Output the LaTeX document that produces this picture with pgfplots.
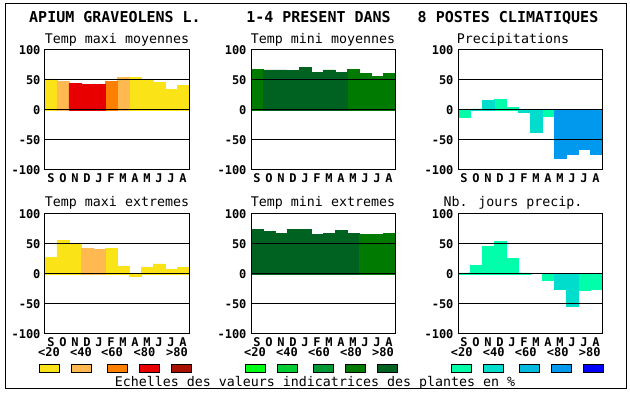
\documentclass[border=0pt]{standalone}
\usepackage{fontspec}
\setmainfont{DejaVu Sans Mono}
\setmonofont{DejaVu Sans Mono}
\usepackage{pgfplots}
\pgfplotsset{compat=1.18}
\definecolor{y20}{RGB}{250,228,24}
\definecolor{y40}{RGB}{255,185,80}
\definecolor{y60}{RGB}{255,128,0}
\definecolor{y80}{RGB}{232,0,0}
\definecolor{y99}{RGB}{170,16,0}
\definecolor{g20}{RGB}{0,255,20}
\definecolor{g40}{RGB}{0,204,51}
\definecolor{g60}{RGB}{0,153,51}
\definecolor{g80}{RGB}{0,122,0}
\definecolor{g99}{RGB}{0,98,32}
\definecolor{b20}{RGB}{0,255,170}
\definecolor{b40}{RGB}{0,221,204}
\definecolor{b60}{RGB}{0,187,221}
\definecolor{b80}{RGB}{0,153,238}
\definecolor{b99}{RGB}{0,0,255}
\newcommand\ticks{\fontsize{12}{13}\selectfont\bfseries}
\newcommand\subt{\fontsize{13.3}{14}\selectfont}
\newcommand\ttl{\fontsize{15}{16}\selectfont\bfseries}
\pgfplotsset{panel/.style={width=144pt,height=120pt,scale only axis,
  anchor=south west,
  xmin=0.5,xmax=12.5,ymin=-100,ymax=100,
  xtick={1,...,12},xticklabels={S,O,N,D,J,F,M,A,M,J,J,A},
  ytick={-100,-50,0,50,100},yticklabels={-100,-50,0,50,100},
  major tick length=0pt,
  ymajorgrids, grid style={black,line width=1pt},
  axis line style={black,line width=1pt},
  axis on top,
  tick label style={font=\ticks},
  yticklabel style={xshift=-1pt},
  },
  bars/.style={ybar,bar width=1,bar shift=0pt,fill=#1,draw=#1,line width=0.2pt}}
\newcommand\sw[2]{\draw[line width=1pt,fill=#2] (#1pt,21.5pt) rectangle ++(20pt,8pt);}
\begin{document}
\begin{tikzpicture}
\path[use as bounding box] (0pt,0pt) rectangle (630pt,394pt);
\draw[line width=1pt] (5.5pt,5pt) rectangle (626pt,390pt);
% titles
\node[anchor=base,inner sep=0] at (115pt,371.5pt) {\ttl APIUM GRAVEOLENS L.};
\node[anchor=base,inner sep=0] at (318.5pt,371.5pt) {\ttl 1-4 PRESENT DANS};
\node[anchor=base,inner sep=0] at (508pt,371.5pt) {\ttl 8 POSTES CLIMATIQUES};
\node[anchor=base,inner sep=0] at (117pt,350.5pt) {\subt Temp maxi moyennes};
\node[anchor=base,inner sep=0] at (323pt,350.5pt) {\subt Temp mini moyennes};
\node[anchor=base,inner sep=0] at (513pt,350.5pt) {\subt Precipitations};
\node[anchor=base,inner sep=0] at (117pt,187.3pt) {\subt Temp maxi extremes};
\node[anchor=base,inner sep=0] at (323pt,187.3pt) {\subt Temp mini extremes};
\node[anchor=base,inner sep=0] at (513pt,187.3pt) {\subt Nb. jours precip.};
\node[anchor=base,inner sep=0] at (315pt,7.5pt) {\subt Echelles des valeurs indicatrices des plantes en \%};
% panel 1
\begin{axis}[panel,at={(45pt,224pt)}]
\addplot[bars=y20] coordinates {(1,52) (8,54) (9,49) (10,46) (11,34) (12,41)};
\addplot[bars=y40] coordinates {(2,48) (7,54)};
\addplot[bars=y60] coordinates {(6,48)};
\addplot[bars=y80] coordinates {(3,44) (4,43) (5,43)};
\end{axis}
% panel 2
\begin{axis}[panel,at={(251pt,224pt)}]
\addplot[bars=g80] coordinates {(1,68) (9,68) (10,61) (11,56) (12,61)};
\addplot[bars=g99] coordinates {(2,67) (3,67) (4,66) (5,71) (6,63) (7,67) (8,63)};
\end{axis}
% panel 3
\begin{axis}[panel,at={(458pt,224pt)}]
\addplot[bars=b20] coordinates {(1,-12) (4,18) (5,4) (8,-11)};
\addplot[bars=b40] coordinates {(2,2) (3,16) (6,-4) (7,-37)};
\addplot[bars=b80] coordinates {(9,-81) (10,-73) (11,-66) (12,-74)};
\end{axis}
% panel 4
\begin{axis}[panel,at={(45pt,60pt)}]
\addplot[bars=y20] coordinates {(1,28) (2,56) (3,49) (6,43) (7,13) (8,-4) (9,11) (10,17) (11,8) (12,11)};
\addplot[bars=y40] coordinates {(4,43) (5,41)};
\end{axis}
% panel 5
\begin{axis}[panel,at={(251pt,60pt)}]
\addplot[bars=g99] coordinates {(1,74) (2,71) (3,68) (4,74) (5,74) (6,66) (7,68) (8,73) (9,68)};
\addplot[bars=g80] coordinates {(10,66) (11,66) (12,68)};
\end{axis}
% panel 6
\begin{axis}[panel,at={(458pt,60pt)}]
\addplot[bars=b20] coordinates {(1,2) (2,14) (3,46) (4,54) (5,26) (6,2) (8,-11) (11,-27) (12,-26)};
\addplot[bars=b40] coordinates {(9,-26) (10,-53)};
\end{axis}
% legends
\foreach \x/\t in {49/<20,81/<40,112/<60,144.5/<80,177/>80,
                   255/<20,287/<40,319/<60,351/<80,383/>80,
                   461.7/<20,493.7/<40,525.7/<60,557.7/<80,589.7/>80}
  \node[anchor=base,inner sep=0] at (\x pt,37pt) {\ticks\t};
\sw{39}{y20}\sw{71}{y40}\sw{107}{y60}\sw{139}{y80}\sw{171}{y99}
\sw{245}{g20}\sw{277}{g40}\sw{313}{g60}\sw{345}{g80}\sw{377}{g99}
\sw{451}{b20}\sw{483}{b40}\sw{519}{b60}\sw{551}{b80}\sw{583}{b99}
\end{tikzpicture}
\end{document}
